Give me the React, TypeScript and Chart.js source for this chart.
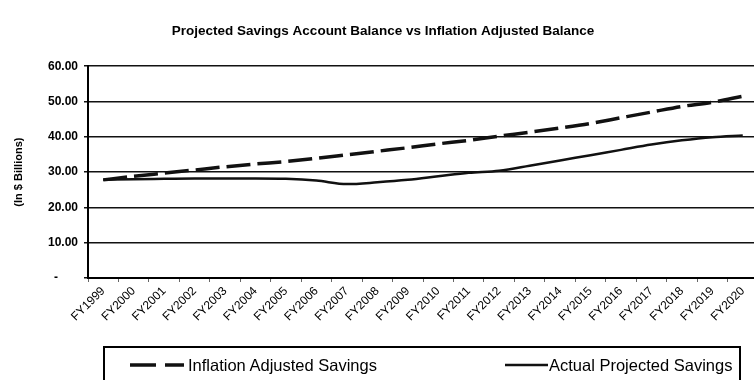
import React, { useEffect, useRef } from 'react';
import { Chart, registerables } from 'chart.js';

Chart.register(...registerables);

// Fiscal years on the category axis
const fiscalYears = [
  'FY1999', 'FY2000', 'FY2001', 'FY2002', 'FY2003', 'FY2004', 'FY2005', 'FY2006',
  'FY2007', 'FY2008', 'FY2009', 'FY2010', 'FY2011', 'FY2012', 'FY2013', 'FY2014',
  'FY2015', 'FY2016', 'FY2017', 'FY2018', 'FY2019', 'FY2020',
];

// Balances in $ billions
const inflationAdjusted = [
  27.8, 28.8, 29.7, 30.6, 31.5, 32.3, 33.0, 33.9, 34.9, 35.9, 36.9,
  38.0, 39.0, 40.2, 41.3, 42.5, 43.8, 45.4, 47.0, 48.6, 49.8, 51.5,
];
const actualProjected = [
  27.8, 28.0, 28.1, 28.2, 28.2, 28.2, 28.1, 27.6, 26.6, 27.1, 27.8,
  28.8, 29.8, 30.4, 31.8, 33.3, 34.8, 36.3, 37.8, 39.0, 39.9, 40.4,
];

const yMin = 0;
const yMax = 60;
const yStep = 10;

const seriesNames = ['Inflation Adjusted Savings', 'Actual Projected Savings'];
const chartTitle = 'Projected Savings Account Balance vs Inflation Adjusted Balance';
const yAxisTitle = '(In $ Billions)';

const FONT = '"Liberation Sans", Arial, Helvetica, sans-serif';
const INK = '#111';

export default function App() {
  const canvasRef = useRef<HTMLCanvasElement | null>(null);

  useEffect(() => {
    const canvas = canvasRef.current;
    if (!canvas) return;
    const chart = new Chart(canvas, {
      type: 'line',
      data: {
        labels: fiscalYears,
        datasets: [
          {
            label: seriesNames[0],
            data: inflationAdjusted,
            borderColor: INK,
            borderWidth: 3.5,
            borderDash: [24, 7],
            pointRadius: 0,
            cubicInterpolationMode: 'monotone',
            fill: false,
          },
          {
            label: seriesNames[1],
            data: actualProjected,
            borderColor: INK,
            borderWidth: 2.5,
            pointRadius: 0,
            cubicInterpolationMode: 'monotone',
            fill: false,
          },
        ],
      },
      options: {
        responsive: false,
        animation: false,
        layout: { padding: { left: 8, right: 22, top: 0, bottom: 0 } },
        plugins: {
          legend: { display: false },
          tooltip: { enabled: false },
          title: {
            display: true,
            text: chartTitle,
            color: '#000',
            font: { family: FONT, size: 13.5, weight: 'bold' },
            padding: { top: 23, bottom: 27 },
          },
        },
        scales: {
          x: {
            type: 'category',
            offset: true,
            afterFit: (scale: any) => {
              scale.height = 67;
            },
            grid: {
              offset: true,
              drawOnChartArea: false,
              drawTicks: true,
              tickLength: 4,
              color: '#666',
              lineWidth: 1,
            },
            border: { display: true, color: '#000', width: 2 },
            ticks: {
              minRotation: 45,
              maxRotation: 45,
              autoSkip: false,
              color: '#000',
              padding: 2,
              font: { family: FONT, size: 12 },
            },
          },
          y: {
            min: yMin,
            max: yMax,
            afterFit: (scale: any) => {
              scale.width = 80;
            },
            grid: {
              color: INK,
              lineWidth: 1.5,
              drawTicks: true,
              tickLength: 4,
            },
            border: { display: true, color: '#000', width: 2 },
            ticks: {
              stepSize: yStep,
              color: '#000',
              padding: 6,
              font: { family: FONT, size: 12, weight: 'bold' },
              callback: (v: any) =>
                Number(v) === 0 ? '-\u2007\u2007\u2007' : Number(v).toFixed(2),
            },
            title: {
              display: true,
              text: yAxisTitle,
              color: '#000',
              font: { family: FONT, size: 11, weight: 'bold' },
              padding: { top: 4, bottom: 0 },
            },
          },
        },
      },
    });
    return () => chart.destroy();
  }, []);

  const legendText: React.CSSProperties = {
    position: 'absolute',
    top: 355,
    fontFamily: FONT,
    fontSize: 16.5,
    color: '#000',
    lineHeight: '20px',
    whiteSpace: 'nowrap',
  };

  return (
    <div
      style={{
        position: 'absolute',
        left: 0,
        top: 0,
        width: 754,
        height: 380,
        overflow: 'hidden',
        background: '#fff',
      }}
    >
      <canvas ref={canvasRef} width={780} height={345} style={{ display: 'block' }} />
      <div
        style={{
          position: 'absolute',
          left: 103,
          top: 346,
          width: 638,
          height: 60,
          border: '2px solid #000',
          boxSizing: 'border-box',
        }}
      />
      <svg
        style={{ position: 'absolute', left: 0, top: 0 }}
        width={754}
        height={380}
      >
        <line x1={130} y1={365} x2={184} y2={365} stroke={INK} strokeWidth={3.5} strokeDasharray="26 9" />
        <line x1={505} y1={365} x2={548} y2={365} stroke={INK} strokeWidth={2.5} />
      </svg>
      <span style={{ ...legendText, left: 188 }}>{seriesNames[0]}</span>
      <span style={{ ...legendText, left: 549 }}>{seriesNames[1]}</span>
    </div>
  );
}
